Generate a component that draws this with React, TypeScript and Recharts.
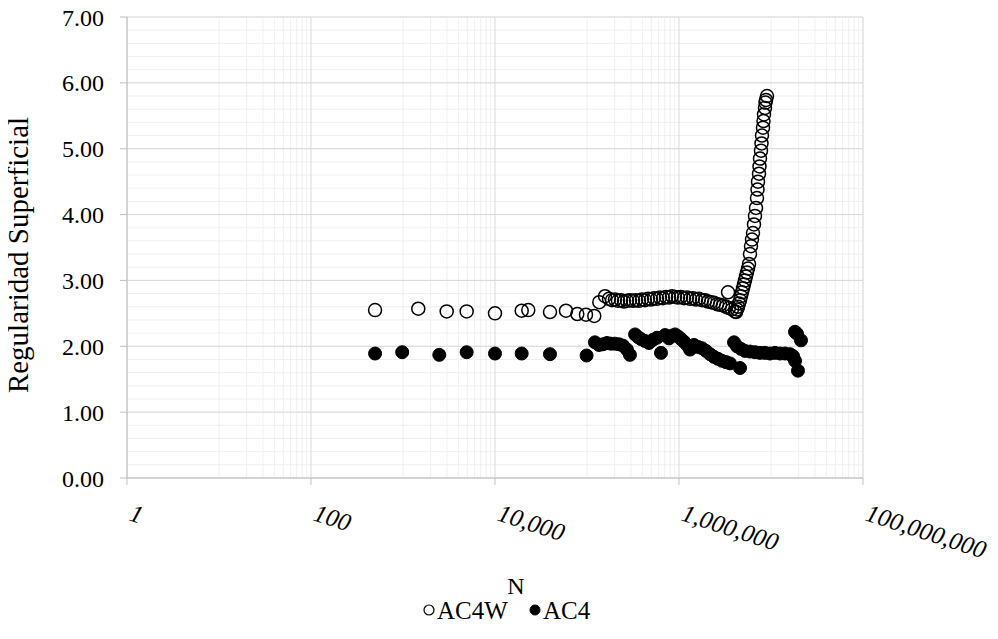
import React from 'react';
import { ScatterChart, Scatter, XAxis, YAxis, CartesianGrid } from 'recharts';

const xTicks = [1, 100, 10000, 1000000, 100000000];
const yTicks = [0, 1, 2, 3, 4, 5, 6, 7];
const xMinorBases = [10, 1000, 100000, 10000000];
const xMinorTicks = xMinorBases.flatMap((b) => [1, 2, 3, 4, 5, 6, 7, 8, 9].map((m) => m * b));
const yMinorTicks = Array.from({ length: 36 }, (_, i) => Math.round(i * 0.2 * 10) / 10);

const ac4wN = [
  497, 1466, 2985, 4920, 10000, 19500, 23000, 39600, 59100, 78500, 97500, 120000, 136000, 157000,
  173400, 187100, 201400, 217300, 234400, 252300, 272300, 293100, 316200, 341200, 367300, 396300,
  426600, 460300, 496600, 534600, 576800, 620900, 669900, 722800, 778000, 839500, 905700, 975000,
  1052000, 1132000, 1222000, 1318000, 1419000, 1531000, 1648000, 1778000, 1919000, 2065000, 2228000,
  2399000, 2588000, 2793000, 3006000, 3243000, 3491000, 3767000, 4064000, 3412000,
  4166000, 4271000, 4379000, 4490000, 4603000, 4719000, 4839000, 4961000, 5087000, 5215000, 5347000,
  5482000, 5623000, 5765000, 5911000, 6060000, 6214000, 6371000, 6532000, 6697000, 6871000, 7044000,
  7133000, 7222000, 7405000, 7499000, 7592000, 7784000, 7882000, 7981000, 8185000, 8288000, 8392000,
  8604000, 8713000, 8823000, 9047000,
];
const ac4wR = [
  2.55, 2.57, 2.53, 2.53, 2.5, 2.54, 2.55, 2.52, 2.54, 2.49, 2.48, 2.46, 2.67, 2.76,
  2.72, 2.7, 2.71, 2.69, 2.7, 2.68, 2.69, 2.7, 2.69, 2.7, 2.69, 2.71,
  2.7, 2.72, 2.71, 2.73, 2.72, 2.74, 2.73, 2.75, 2.74, 2.76, 2.75, 2.74,
  2.75, 2.73, 2.74, 2.72, 2.73, 2.71, 2.72, 2.7, 2.7, 2.68, 2.67,
  2.66, 2.64, 2.63, 2.62, 2.6, 2.58, 2.56, 2.53, 2.82,
  2.52, 2.56, 2.6, 2.65, 2.7, 2.76, 2.82, 2.88, 2.94, 3.0, 3.06,
  3.12, 3.18, 3.25, 3.4, 3.52, 3.62, 3.72, 3.85, 3.98, 4.1, 4.25,
  4.38, 4.5, 4.62, 4.73, 4.85, 4.97, 5.08, 5.2, 5.32, 5.42, 5.52,
  5.62, 5.7, 5.74, 5.8,
];

const ac4N = [
  497, 980, 2480, 4920, 10000, 19500, 39600, 99000, 122000, 135000, 149000, 165000, 182000, 201000,
  223000, 246000, 272000, 293000, 333000, 358000, 386000, 427000, 472000, 522000, 577000, 637000,
  705000, 778000, 840000, 906000, 975000, 1052000, 1132000, 1222000, 1318000, 1455000, 1611000,
  1778000, 1963000, 2173000, 2399000, 2655000, 2931000, 3243000, 3581000, 3963000, 4266000, 4603000,
  4719000, 5215000, 5911000, 6697000, 7592000, 8604000, 9750000, 11040000, 12530000, 14190000,
  16100000, 17340000, 18240000, 19640000, 18240000, 19180000, 21180000,
];
const ac4R = [
  1.89, 1.91, 1.87, 1.91, 1.89, 1.89, 1.88, 1.86, 2.06, 2.02, 2.03, 2.05, 2.04, 2.04,
  2.03, 2.01, 1.95, 1.87, 2.18, 2.14, 2.11, 2.08, 2.05, 2.1, 2.13, 1.9,
  2.17, 2.12, 2.16, 2.18, 2.15, 2.11, 2.07, 2.02, 1.95, 2.02, 1.99,
  1.97, 1.93, 1.88, 1.84, 1.81, 1.78, 1.76, 1.74, 2.06, 2.0, 1.67,
  1.96, 1.93, 1.92, 1.91, 1.9, 1.9, 1.89, 1.9, 1.89, 1.89,
  1.88, 1.85, 1.78, 1.63, 2.22, 2.19, 2.09,
];

const ac4wData = ac4wN.map((n, i) => ({ n, r: ac4wR[i] }));
const ac4Data = ac4N.map((n, i) => ({ n, r: ac4R[i] }));

const FONT = '"Liberation Serif", "Times New Roman", serif';

const fmtInt = (v: number) => v.toLocaleString('en-US');

const XTick = (props: any) => {
  const { x, y, payload } = props;
  const tx = x + 1;
  const ty = y + 33;
  return (
    <text
      x={tx}
      y={ty}
      transform={`rotate(18, ${tx}, ${ty})`}
      fontFamily={FONT}
      fontStyle="italic"
      fontSize={25}
      fill="#000"
      textAnchor="start"
    >
      {fmtInt(payload.value)}
    </text>
  );
};

const YTitle = () => (
  <text
    x={28}
    y={255}
    transform="rotate(-90, 28, 255)"
    textAnchor="middle"
    fontFamily={FONT}
    fontSize={29}
    fill="#000"
  >
    Regularidad Superficial
  </text>
);

const XTitleAndLegend = () => (
  <g>
    <text x={516} y={594} textAnchor="middle" fontFamily={FONT} fontSize={24} fill="#000">
      N
    </text>
    <circle cx={429} cy={610} r={5} fill="none" stroke="#000" strokeWidth={1.2} />
    <text x={437} y={619} fontFamily={FONT} fontSize={25} fill="#000">
      AC4W
    </text>
    <circle cx={535} cy={610} r={5} fill="#000" stroke="#000" />
    <text x={543} y={619} fontFamily={FONT} fontSize={25} fill="#000">
      AC4
    </text>
  </g>
);

const OpenDot = (props: any) => {
  const { cx, cy } = props;
  if (cx == null || cy == null) return null;
  return <circle cx={cx} cy={cy} r={6.5} fill="none" stroke="#000" strokeWidth={1.5} />;
};
const FilledDot = (props: any) => {
  const { cx, cy } = props;
  if (cx == null || cy == null) return null;
  return <circle cx={cx} cy={cy} r={6.5} fill="#000" stroke="#000" strokeWidth={1} />;
};

export default function App() {
  return (
    <div style={{ width: 998, height: 639, marginLeft: -8, marginTop: -8 }}>
      <ScatterChart
        width={998}
        height={639}
        margin={{ top: 17, right: 135, bottom: 101, left: 0 }}
        style={{ fontFamily: FONT }}
      >
        <CartesianGrid xAxisId="minor" yAxisId="minor" stroke="#efefef" strokeWidth={1} />
        <CartesianGrid stroke="#d9d9d9" strokeWidth={1} />
        <XAxis
          xAxisId="minor"
          type="number"
          dataKey="n"
          scale="log"
          domain={[1, 100000000]}
          ticks={xMinorTicks}
          interval={0}
          allowDataOverflow
          hide
        />
        <YAxis
          yAxisId="minor"
          type="number"
          dataKey="r"
          domain={[0, 7]}
          ticks={yMinorTicks}
          interval={0}
          allowDataOverflow
          hide
        />
        <XAxis
          type="number"
          dataKey="n"
          scale="log"
          domain={[1, 100000000]}
          ticks={xTicks}
          interval={0}
          allowDataOverflow
          height={60}
          tick={<XTick />}
          tickSize={7}
          tickMargin={2}
          axisLine={{ stroke: '#bfbfbf', strokeWidth: 1 }}
          tickLine={{ stroke: '#bfbfbf' }}
          label={<XTitleAndLegend />}
        />
        <YAxis
          type="number"
          dataKey="r"
          domain={[0, 7]}
          ticks={yTicks}
          interval={0}
          allowDataOverflow
          width={127}
          tickFormatter={(v: number) => v.toFixed(2)}
          tick={{ fill: '#000', fontSize: 24, fontFamily: FONT }}
          tickSize={7}
          tickMargin={16}
          axisLine={{ stroke: '#bfbfbf', strokeWidth: 1 }}
          tickLine={{ stroke: '#bfbfbf' }}
          label={<YTitle />}
        />
        <Scatter name="AC4W" data={ac4wData} shape={<OpenDot />} isAnimationActive={false} />
        <Scatter name="AC4" data={ac4Data} shape={<FilledDot />} isAnimationActive={false} />
      </ScatterChart>
    </div>
  );
}
